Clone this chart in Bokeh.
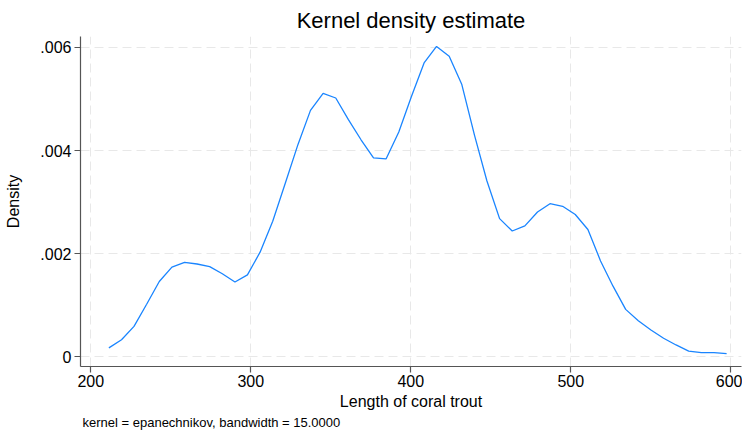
from bokeh.plotting import figure
from bokeh.models import Range1d, FixedTicker, Title
from bokeh.embed import file_html
from bokeh.resources import INLINE

# Evaluation points (length of coral trout) and density estimates
length = [211.3, 219.2, 227.0, 234.9, 242.8, 250.7, 258.6, 266.4, 274.3, 282.2,
          290.1, 297.9, 305.8, 313.7, 321.6, 329.5, 337.3, 345.2, 353.1, 361.0,
          368.9, 376.7, 384.6, 392.5, 400.4, 408.3, 416.1, 424.0, 431.9, 439.8,
          447.6, 455.5, 463.4, 471.3, 479.2, 487.0, 494.9, 502.8, 510.7, 518.6,
          526.4, 534.3, 542.2, 550.1, 558.0, 565.8, 573.7, 581.6, 589.5, 597.4]
density = [0.000174, 0.00033, 0.00059, 0.00102, 0.00146, 0.00174, 0.00183, 0.00180, 0.00175, 0.00161,
           0.00145, 0.00159, 0.00203, 0.00263, 0.00337, 0.00412, 0.00478, 0.00511, 0.00502, 0.00460,
           0.00421, 0.00386, 0.00384, 0.00436, 0.00505, 0.00570, 0.00602, 0.00583, 0.00528, 0.00430,
           0.00341, 0.00268, 0.00244, 0.00254, 0.00281, 0.00297, 0.00292, 0.00276, 0.00247, 0.00186,
           0.00137, 0.00092, 0.00070, 0.00052, 0.00036, 0.00023, 0.00011, 0.00008, 0.00008, 0.00006]

x_ticks = [200, 300, 400, 500, 600]
y_ticks = [0, 0.002, 0.004, 0.006]
y_tick_labels = ["0", ".002", ".004", ".006"]

FONT = "Liberation Sans"

p = figure(width=742, height=430, output_backend="svg", toolbar_location=None,
           x_range=Range1d(193.56, 606.7), y_range=Range1d(-0.000188, 0.006213),
           min_border_left=80, min_border_right=1, min_border_top=36, min_border_bottom=64)

p.title.text = "Kernel density estimate"
p.title.align = "center"
p.title.text_font = FONT
p.title.text_font_size = "22px"
p.title.text_font_style = "normal"
p.title.text_color = "#000000"
p.title.standoff = 8

p.line(length, density, line_color="#1a85ff", line_width=1.3)

p.outline_line_color = None
p.background_fill_color = "white"
p.border_fill_color = "white"

for ax in (p.xaxis[0], p.yaxis[0]):
    ax.axis_line_color = "#555555"
    ax.axis_line_width = 1.2
    ax.major_tick_line_color = "#555555"
    ax.major_tick_line_width = 1.2
    ax.major_tick_out = 6
    ax.major_tick_in = 0
    ax.minor_tick_line_color = None
    ax.major_label_text_font = FONT
    ax.major_label_text_font_size = "16px"
    ax.major_label_text_color = "#000000"
    ax.axis_label_text_font = FONT
    ax.axis_label_text_font_size = "16px"
    ax.axis_label_text_font_style = "normal"
    ax.axis_label_text_color = "#000000"

p.xaxis.ticker = FixedTicker(ticks=x_ticks)
p.xaxis.axis_label = "Length of coral trout"
p.xaxis.major_label_standoff = 2
p.xaxis.axis_label_standoff = 3

p.yaxis.ticker = FixedTicker(ticks=y_ticks)
p.yaxis.major_label_overrides = {t: l for t, l in zip(y_ticks, y_tick_labels)}
p.yaxis.major_label_orientation = "horizontal"
p.yaxis.axis_label = "Density"
p.yaxis.major_label_standoff = 3
p.yaxis.axis_label_standoff = 15

p.xgrid.ticker = FixedTicker(ticks=x_ticks)
p.ygrid.ticker = FixedTicker(ticks=y_ticks)
for g in (p.xgrid[0], p.ygrid[0]):
    g.grid_line_color = "#e8e8e8"
    g.grid_line_dash = "9 5"
    g.grid_line_width = 1

note = Title(text="kernel = epanechnikov, bandwidth = 15.0000", align="left",
             text_font=FONT, text_font_size="13px", text_font_style="normal",
             text_color="#000000", offset=2, standoff=0)
p.add_layout(note, "below")

open("out.html", "w").write(file_html(p, INLINE))
